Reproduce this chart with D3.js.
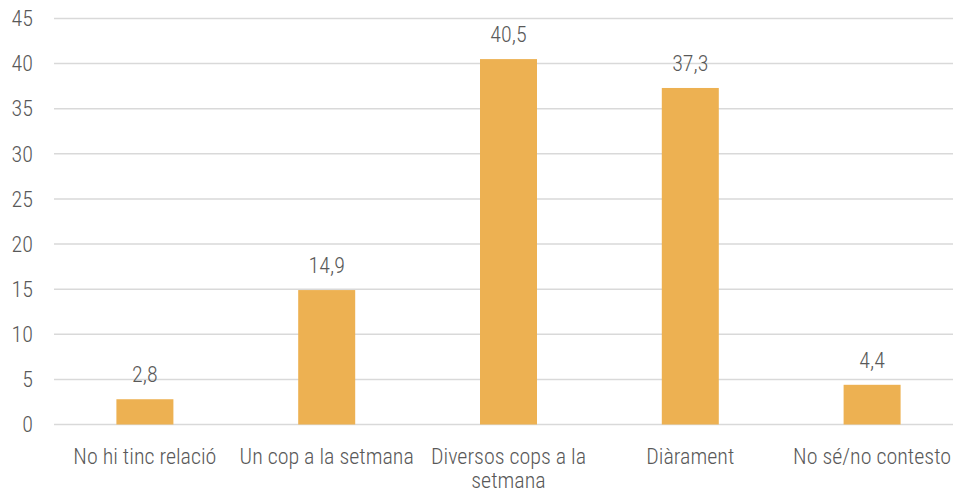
<!DOCTYPE html>
<html>
<head>
<meta charset="utf-8">
<script src="https://cdn.jsdelivr.net/npm/d3@7"></script>
<style>
  body { margin: 0; background: #fff; }
  svg text { font-family: "Roboto Condensed", "Liberation Sans Narrow", sans-serif; fill: #595959; font-weight: 300; }
</style>
</head>
<body>
<svg id="chart" width="953" height="493"></svg>
<script>
// Chart data
const categories = ["No hi tinc relació", "Un cop a la setmana", "Diversos cops a la setmana", "Diàrament", "No sé/no contesto"];
const values = [2.8, 14.9, 40.5, 37.3, 4.4];
const yTicks = [0, 5, 10, 15, 20, 25, 30, 35, 40, 45];

const svg = d3.select("#chart");
const margin = { left: 54, right: -10, top: 18.5, bottom: 68.5 };
const width = 953, height = 493;
const fontSize = 22;

const x = d3.scaleBand()
  .domain(categories)
  .range([margin.left, width - margin.right])
  .paddingInner(0)
  .paddingOuter(0);

const y = d3.scaleLinear()
  .domain([0, 45])
  .range([height - margin.bottom, margin.top]);

const barWidth = 57;

// Gridlines
svg.append("g")
  .selectAll("line")
  .data(yTicks)
  .join("line")
  .attr("x1", margin.left)
  .attr("x2", width)
  .attr("y1", (d) => y(d))
  .attr("y2", (d) => y(d))
  .attr("stroke", "#d9d9d9")
  .attr("stroke-width", 1.5);

// Y tick labels
svg.append("g")
  .selectAll("text")
  .data(yTicks)
  .join("text")
  .attr("x", 33)
  .attr("y", (d) => y(d))
  .attr("dy", "0.35em")
  .attr("text-anchor", "end")
  .attr("font-size", fontSize)
  .text((d) => d);

// Bars
svg.append("g")
  .selectAll("rect")
  .data(values)
  .join("rect")
  .attr("x", (d, i) => x(categories[i]) + x.bandwidth() / 2 - barWidth / 2)
  .attr("y", (d) => y(d))
  .attr("width", barWidth)
  .attr("height", (d) => y(0) - y(d))
  .attr("fill", "#edb152");

// Value labels
svg.append("g")
  .selectAll("text")
  .data(values)
  .join("text")
  .attr("x", (d, i) => x(categories[i]) + x.bandwidth() / 2)
  .attr("y", (d) => y(d) - 17)
  .attr("text-anchor", "middle")
  .attr("font-size", fontSize)
  .text((d) => String(d).replace(".", ","));

// Category labels, wrapped to band width
const catLabels = svg.append("g")
  .selectAll("text")
  .data(categories)
  .join("text")
  .attr("x", (d) => x(d) + x.bandwidth() / 2)
  .attr("y", y(0) + 39)
  .attr("text-anchor", "middle")
  .attr("font-size", fontSize);

catLabels.each(function (d) {
  const text = d3.select(this);
  const cx = +text.attr("x");
  const words = d.split(" ");
  let line = [];
  let tspan = text.append("tspan").attr("x", cx).attr("dy", 0);
  for (const w of words) {
    line.push(w);
    tspan.text(line.join(" "));
    if (tspan.node().getComputedTextLength() > x.bandwidth() - 2 && line.length > 1) {
      line.pop();
      tspan.text(line.join(" "));
      line = [w];
      tspan = text.append("tspan").attr("x", cx).attr("dy", 24).text(w);
    }
  }
});
</script>
</body>
</html>
